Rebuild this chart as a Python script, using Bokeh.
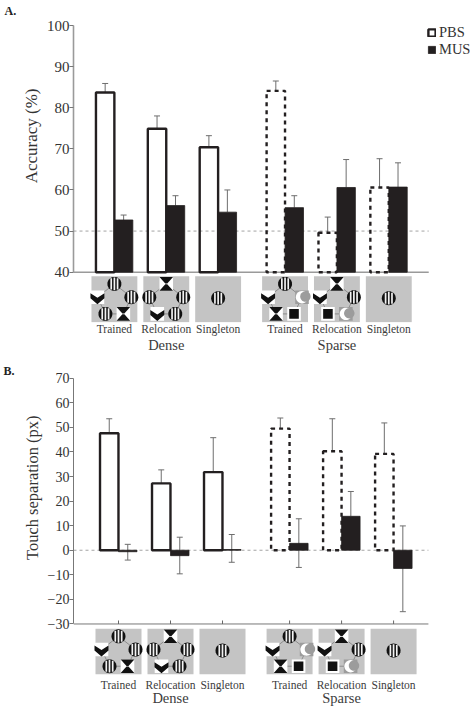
import math
from bokeh.embed import file_html
from bokeh.resources import INLINE
from bokeh.layouts import column
from bokeh.plotting import figure
from bokeh.models import (FixedTicker, Legend, LegendItem, LinearAxis, Range1d, Title)

groups = ["Trained", "Relocation", "Singleton", "Trained", "Relocation", "Singleton"]
positions = [1, 2, 3, 4.29, 5.29, 6.29]
super_groups = ["Dense", "Sparse"]
super_positions = [2, 5.29]

acc_pbs = [83.7, 74.9, 70.4, 84.1, 49.6, 60.6]
acc_pbs_hi = [85.9, 78.0, 73.2, 86.5, 53.4, 67.6]
acc_mus = [52.7, 56.2, 54.6, 55.7, 60.6, 60.7]
acc_mus_hi = [53.9, 58.6, 60.0, 58.6, 67.4, 66.6]

sep_pbs = [47.6, 27.2, 31.8, 49.5, 40.3, 39.2]
sep_pbs_hi = [53.5, 32.7, 45.8, 53.8, 53.5, 51.8]
sep_mus = [-0.6, -2.2, 0.3, 2.8, 13.8, -7.4]
sep_mus_hi = [2.4, 5.3, 6.4, 12.8, 23.9, 9.9]
sep_mus_lo = [-4.0, -9.6, -4.9, -7.0, 13.8, -25.0]

acc_ticks = [40, 50, 60, 70, 80, 90, 100]
sep_ticks = [-30, -20, -10, 0, 10, 20, 30, 40, 50, 60, 70]

icon_sets = [
    ["stripes", "stripes", "hourglass", "stripes", "chevron"],
    ["hourglass", "stripes", "stripes", "chevron", "stripes"],
    ["single"],
    ["stripes", "crescent", "square", "hourglass", "chevron"],
    ["hourglass", "stripes", "crescent", "square", "chevron"],
    ["single"],
]

SERIF = "Liberation Serif"
INK = "#231f20"
GRAY = "#c4c4c4"
XSCALE = 52.0
SLOTS = [(0, -15.3), (17, -2), (9, 14.7), (-9, 14.7), (-17, -2)]


def circle(cx, cy, r, n=28):
    return [(cx + r * math.cos(2 * math.pi * i / n), cy + r * math.sin(2 * math.pi * i / n)) for i in range(n)]


def box(cx, cy, hw, hh):
    return [(cx - hw, cy - hh), (cx + hw, cy - hh), (cx + hw, cy + hh), (cx - hw, cy + hh)]


def icon(kind, cx, cy):
    out = []
    if kind == "stripes":
        out.append((circle(cx, cy, 7.0), "#111111"))
        for off in (-3.2, 0.0, 3.2):
            h = math.sqrt(max(6.4 ** 2 - off ** 2, 0))
            out.append((box(cx + off, cy, 0.85, h), "#f2f2f2"))
    elif kind == "chevron":
        out.append((box(cx, cy, 6.8, 6.8), "#ffffff"))
        out.append(([(cx - 7, cy - 4), (cx, cy + 0.5), (cx + 7, cy - 4), (cx + 7, cy + 1),
                     (cx, cy + 7), (cx - 7, cy + 1)], "#111111"))
    elif kind == "hourglass":
        out.append((box(cx, cy, 6.8, 6.8), "#ffffff"))
        out.append(([(cx - 6.8, cy - 6.8), (cx + 6.8, cy - 6.8), (cx + 1, cy - 0.3), (cx - 1, cy - 0.3)], "#111111"))
        out.append(([(cx - 6.8, cy + 6.8), (cx + 6.8, cy + 6.8), (cx + 1, cy + 0.3), (cx - 1, cy + 0.3)], "#111111"))
    elif kind == "crescent":
        out.append((box(cx, cy, 6.8, 6.8), "#9c9c9c"))
        out.append((circle(cx, cy, 6.2), "#ffffff"))
        out.append((circle(cx + 3.4, cy - 0.6, 5.2), "#9c9c9c"))
    elif kind == "square":
        out.append((box(cx, cy, 6.8, 6.8), "#ffffff"))
        out.append((box(cx, cy, 4.8, 4.8), "#111111"))
    return out


def panel(height, frame_bottom, top_px, left_px, y_top, y_bottom, y_axis_lo, y_axis_hi, ticks, pbs, pbs_hi, mus,
          mus_hi, mus_lo, thumb_y, yscale, baseline_color, baseline_w, tick_size, ylabel, ylabel_offset, ylabel_size,
          letter, refline, group0_px, end_x, std1, std2, show_ticks):
    x0 = 1 + (left_px - group0_px) / XSCALE
    x1 = 1 + (472 - group0_px) / XSCALE
    p = figure(width=472, height=height, output_backend="svg", toolbar_location=None,
               x_range=Range1d(x0, x1), y_range=Range1d(y_bottom, y_top),
               min_border_left=left_px, min_border_right=0, min_border_top=top_px,
               min_border_bottom=height - frame_bottom, x_axis_type=None, y_axis_type=None)
    p.grid.visible = False
    p.outline_line_color = None

    ya = LinearAxis(ticker=FixedTicker(ticks=ticks), bounds=(y_axis_lo, y_axis_hi))
    ya.axis_line_color = baseline_color
    ya.axis_line_width = baseline_w
    ya.major_tick_line_color = "#777777"
    ya.major_tick_in = 0
    ya.major_tick_out = 4
    ya.minor_tick_line_color = None
    ya.major_label_standoff = 0
    ya.major_label_text_font = SERIF
    ya.major_label_text_font_size = tick_size
    ya.major_label_text_color = "#333333"
    p.add_layout(ya, "left")

    xa = LinearAxis(ticker=FixedTicker(ticks=positions),
                    major_label_overrides={pos: g for pos, g in zip(positions, groups)})
    xa.axis_line_color = None
    xa.major_tick_line_color = None
    xa.minor_tick_line_color = None
    xa.major_tick_out = 0
    xa.major_tick_in = 0
    xa.major_label_standoff = std1
    xa.major_label_text_font = SERIF
    xa.major_label_text_font_size = "11.5px"
    xa.major_label_text_color = "#3c3c3c"
    p.add_layout(xa, "below")

    xb = LinearAxis(ticker=FixedTicker(ticks=super_positions),
                    major_label_overrides={pos: g for pos, g in zip(super_positions, super_groups)})
    xb.axis_line_color = None
    xb.major_tick_line_color = None
    xb.minor_tick_line_color = None
    xb.major_tick_out = 0
    xb.major_tick_in = 0
    xb.major_label_standoff = std2
    xb.major_label_text_font = SERIF
    xb.major_label_text_font_size = "14.5px"
    xb.major_label_text_color = "#3c3c3c"
    p.add_layout(xb, "below")

    p.segment([x0], [y_axis_lo], [end_x], [y_axis_lo], line_color=baseline_color, line_width=baseline_w)
    p.segment([x0], [refline], [end_x], [refline], line_color="#8c8c8c", line_width=0.8, line_dash="3 3")
    if show_ticks:
        tick_top = y_axis_lo + 3.5 / yscale
        p.segment(positions, [y_axis_lo] * 6, positions, [tick_top] * 6, line_color="#666666", line_width=1)

    dx = lambda v: v / XSCALE
    dy = lambda v: -v / yscale
    lx0, ly0, lx1, ly1 = [], [], [], []
    for pos, icons in zip(positions, icon_sets):
        p.patch([pos + dx(a) for a, b in box(0, 0, 23, 23)], [thumb_y + dy(b) for a, b in box(0, 0, 23, 23)],
                fill_color=GRAY, line_color=None)
        if len(icons) == 5:
            for i in range(5):
                a0, b0 = SLOTS[i]
                a1, b1 = SLOTS[(i + 1) % 5]
                lx0.append(pos + dx(a0)); ly0.append(thumb_y + dy(b0))
                lx1.append(pos + dx(a1)); ly1.append(thumb_y + dy(b1))
    p.segment(lx0, ly0, lx1, ly1, line_color="#7d7d7d", line_width=0.8)
    for pos, icons in zip(positions, icon_sets):
        if len(icons) == 1:
            placed = [("stripes", 0, -1)]
        else:
            placed = [(k, s[0], s[1]) for k, s in zip(icons, SLOTS)]
        for k, a, b in placed:
            for pts, col in icon(k, a, b):
                p.patch([pos + dx(u) for u, v in pts], [thumb_y + dy(v) for u, v in pts],
                        fill_color=col, line_color=None)

    w = 0.355
    off = 0.178
    base = y_axis_lo if y_axis_lo == 40 else 0
    pbs_x = [v - off for v in positions]
    mus_x = [v + off for v in positions]
    cap = 3.0 / XSCALE
    wc = "#6e6e6e"
    p.segment(pbs_x, pbs, pbs_x, pbs_hi, line_color=wc, line_width=1)
    p.segment([v - cap for v in pbs_x], pbs_hi, [v + cap for v in pbs_x], pbs_hi, line_color=wc, line_width=1)
    p.segment(mus_x, mus_lo, mus_x, mus_hi, line_color=wc, line_width=1)
    p.segment([v - cap for v in mus_x], mus_hi, [v + cap for v in mus_x], mus_hi, line_color=wc, line_width=1)
    low_x = [v for v, m, l in zip(mus_x, mus, mus_lo) if l < m]
    low_y = [l for m, l in zip(mus, mus_lo) if l < m]
    p.segment([v - cap for v in low_x], low_y, [v + cap for v in low_x], low_y, line_color=wc, line_width=1)

    solid = p.vbar(x=pbs_x[:3], top=pbs[:3], bottom=base, width=w, fill_color=None,
                   line_color=INK, line_width=2.4)
    p.vbar(x=pbs_x[3:], top=pbs[3:], bottom=base, width=w, fill_color=None,
           line_color=INK, line_width=2.4, line_dash="4 4")
    filled = p.vbar(x=mus_x, top=mus, bottom=base, width=w, fill_color=INK, line_color=INK, line_width=0.8)

    p.add_layout(Title(text=ylabel, align="right", offset=ylabel_offset, standoff=6,
                       text_font=SERIF, text_font_size=ylabel_size, text_font_style="normal",
                       text_color="#333333"), "left")
    p.add_layout(Title(text=letter, align="left", offset=3 - left_px, standoff=0,
                       text_font=SERIF, text_font_style="bold", text_font_size="12px",
                       text_color="#222222"), "above")
    return p, solid, filled


p1, s1, f1 = panel(355, 322, 17, 72, 100 + 8 / 4.11, 40 - 50.3 / 4.11, 40, 100, acc_ticks,
                   acc_pbs, acc_pbs_hi, acc_mus, acc_mus_hi, acc_mus, 40 - 27 / 4.11, 4.11,
                   "#9a9a9a", 1.6, "15px", "Accuracy (%)", 71, "17px", "A.", 50, 113, 7.06, 0, -1, False)
legend = Legend(items=[LegendItem(label="PBS", renderers=[s1]), LegendItem(label="MUS", renderers=[f1])],
                location=(354, 264), orientation="vertical", background_fill_alpha=0, border_line_color=None,
                padding=0, margin=0, spacing=-4, glyph_width=9, glyph_height=9, label_standoff=3,
                label_text_font=SERIF, label_text_font_size="14.5px", label_text_color="#333333",
                label_height=14)
p1.add_layout(legend, "center")

p2, _, _ = panel(353, 320, 22, 73, 70 + 0.7 / 2.466, -30 - 50.7 / 2.466, -30, 70, sep_ticks,
                 sep_pbs, sep_pbs_hi, sep_mus, sep_mus_hi, sep_mus_lo, -30 - 27.7 / 2.466, 2.466,
                 "#777777", 1.0, "14px", "Touch separation (px)", 38, "16.5px", "B.", 0, 118, 6.96, 4, -4, True)

root = column(p1, p2, spacing=0)
open("out.html", "w").write(file_html(root, INLINE))
